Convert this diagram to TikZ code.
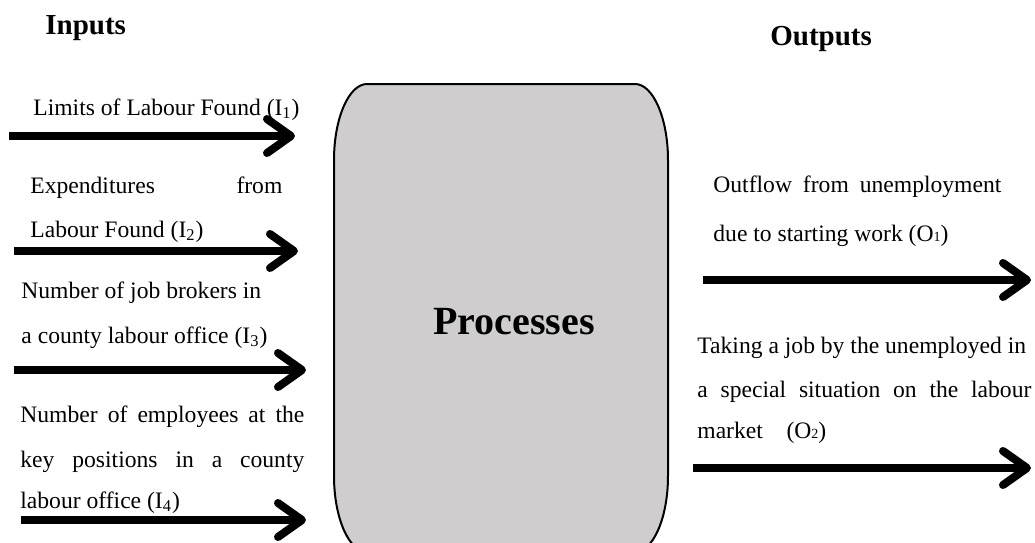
\documentclass[tikz,border=0pt]{standalone}
\usepackage{fontspec}
\setmainfont{Liberation Serif}
\usetikzlibrary{arrows.meta}
\definecolor{boxcolor}{HTML}{CFCDCE}
\tikzset{
  flow/.style={line width=4pt,-{Straight Barb[length=12pt,width=17pt,round]}},
  txt/.style={anchor=base west,inner sep=0pt,font=\fontsize{11.8}{14}\selectfont},
  head/.style={anchor=base west,inner sep=0pt,font=\fontsize{14.5}{17}\selectfont\bfseries}
}

\begin{document}
\begin{tikzpicture}[x=0.5pt,y=-0.5pt]
  \useasboundingbox (0,0) rectangle (1035,542);
  %% process box
  \filldraw[fill=boxcolor,draw=black,line width=1pt] (334,160) .. controls (334,118) and (349,84) .. (367,84)
      -- (635,84) .. controls (653,84) and (668,118) .. (668,160) -- (668,476)
      .. controls (668,518) and (653,552) .. (635,552) -- (367,552)
      .. controls (349,552) and (334,518) .. (334,476) -- cycle;
  \node[font=\fontsize{20}{23}\selectfont\bfseries] (proc) at (514,322) {Processes};
  \node[head] (inhead) at (45,34) {Inputs};
  \node[head] (outhead) at (770,45) {Outputs};
%% arrows in and out
\foreach \n/\xa/\xb/\y in {i1/9/295/136, i2/14/298/251, i3/14/306/370, i4/21/306/520, o1/703/1031/280, o2/693/1031/468}
  {
   \coordinate (\n a) at (\xa,\y);
   \coordinate (\n b) at (\xb,\y);
   \draw[flow] (\n a) -- (\n b);
  }
%% inputs
\node[txt] (i1t) at (33,115) {Limits of Labour Found (I\textsubscript{1})};
\node[txt] (i2t) at (30,193) {\makebox[126pt][s]{Expenditures from}};
\node[txt] (i2u) at (30,237) {Labour Found (I\textsubscript{2})};
\node[txt] (i3t) at (21,298) {Number of job brokers in};
\node[txt] (i3u) at (21,343) {a county labour office (I\textsubscript{3})};
\node[txt] (i4t) at (20,422) {\makebox[142pt][s]{Number of employees at the}};
\node[txt] (i4u) at (20,467) {\makebox[142pt][s]{key positions in a county}};
\node[txt] (i4v) at (20,508) {labour office (I\textsubscript{4})};
%% outputs
\node[txt] (o1t) at (713,192) {\makebox[144pt][s]{Outflow from unemployment}};
\node[txt] (o1u) at (713,241) {due to starting work (O{\scriptsize 1})};
\node[txt] (o2t) at (697,353) {Taking a job by the unemployed in};
\node[txt] (o2u) at (697,397) {\makebox[167pt][s]{a special situation on the labour}};
\node[txt] (o2v) at (697,438) {market\quad (O{\scriptsize 2})};
\end{tikzpicture}
\end{document}
